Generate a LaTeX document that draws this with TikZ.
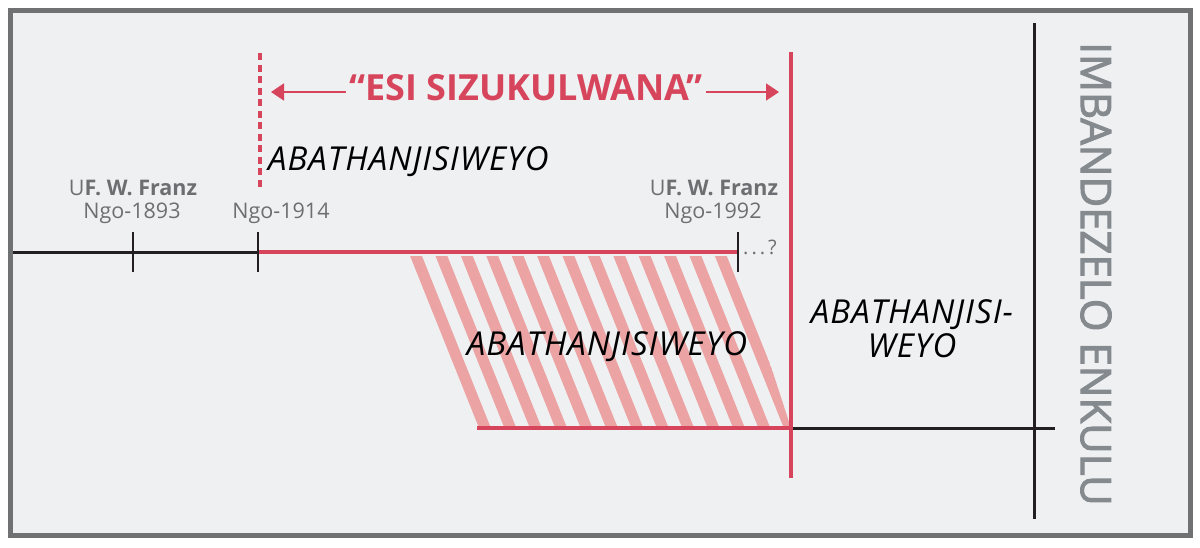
\documentclass[tikz,border=0pt]{standalone}
\usepackage{fontspec}
\setmainfont{Open Sans}
\newfontfamily\sidefont[FakeBold=2.5]{Open Sans}
\usetikzlibrary{arrows.meta,positioning}

\definecolor{framegray}{HTML}{707173}
\definecolor{bggray}{HTML}{EFF0F2}
\definecolor{tlred}{HTML}{D6455B}
\definecolor{hatchred}{HTML}{ECA3A3}
\definecolor{labelgray}{HTML}{6D6E71}
\definecolor{sidegray}{HTML}{858A8F}
\definecolor{inkblack}{HTML}{231F20}

\tikzset{
  tick/.style={line width=2.8pt,inkblack},
  blackline/.style={line width=3pt,inkblack},
  redline/.style={line width=4.8pt,tlred},
  yearlabel/.style={inner sep=0pt,anchor=base,labelgray,font=\fontsize{21.5}{24}\selectfont},
  bigitalic/.style={inner sep=0pt,font=\fontsize{33}{34}\selectfont\itshape\addfontfeature{LetterSpace=3}},
}

\begin{document}
\begin{tikzpicture}[x=1pt,y=-1pt]

			\useasboundingbox (0,0) rectangle (1200,547);
			\draw[line width=5pt,framegray,fill=bggray] (10.5,10.5) rectangle (1190,535.5);

			% hatched block
			\begin{scope}
				\clip (410,256) -- (735,256) -- (791,428) -- (479,428) -- cycle;
				\foreach \k in {0,...,15}
					\draw[hatchred,line width=11pt] (416+\k*25.4-10,231) -- (416+\k*25.4+79,453);
			\end{scope}

			% upper timeline
			\coordinate (start) at (13,252);
			\coordinate (t1893) at (133,252);
			\coordinate (t1914) at (258,252);
			\coordinate (t1992) at (738,252);
			\draw[blackline] (start) -- (t1914);
			\draw[redline] (t1914) -- (t1992);
			\foreach \t in {t1893,t1914,t1992}
				\draw[tick] ([yshift=-20pt]\t) -- ([yshift=20pt]\t);

			% lower timeline
			\coordinate (low) at (477,428);
			\coordinate (cross) at (791,428);
			\coordinate (lowend) at (1055,428);
			\draw[redline] (low) -- (cross);
			\draw[blackline] (cross) -- (lowend);

			% end line and right axis
			\coordinate (endtop) at (791,52);
			\coordinate (endbot) at (791,478);
			\draw[line width=4.4pt,tlred] (endtop) -- (endbot);
			\coordinate (axtop) at (1034,23);
			\coordinate (axbot) at (1034,519);
			\draw[blackline] (axtop) -- (axbot);

			% dashed start
			\coordinate (dashtop) at (260,53);
			\coordinate (dashbot) at (260,191);
			\draw[line width=4pt,tlred,dash pattern=on 7pt off 4.5pt] (dashtop) -- (dashbot);

			% generation title
			\node[inner sep=0pt,anchor=base,tlred,font=\fontsize{36}{40}\selectfont\bfseries] (gen) at (526,100) {“ESI SIZUKULWANA”};
			\coordinate (arrL) at (271,92);
			\coordinate (arrR) at (779,92);
			\draw[tlred,line width=1.8pt,-{Triangle[length=13pt,width=17pt]}] (gen.west |- arrL) ++(-3,0) -- (arrL);
			\draw[tlred,line width=1.8pt,-{Triangle[length=13pt,width=17pt]}] (gen.east |- arrR) ++(3,0) -- (arrR);

			% labels
			\node[bigitalic,anchor=base west] (anoint1) at (268,170) {ABATHANJISIWEYO};
			\node[bigitalic,anchor=base] (anoint2) at (607,355) {ABATHANJISIWEYO};
			\node[bigitalic,align=center] (anoint3) at (912,329) {ABATHANJISI-\\WEYO};

			\node[yearlabel] (franz1) at (133,195) {U\textbf{F. W. Franz}};
			\node[yearlabel] (y1893) at (132,218) {Ngo-1893};
			\node[yearlabel] (y1914) at (281,218) {Ngo-1914};
			\node[yearlabel] (franz2) at (714,195) {U\textbf{F. W. Franz}};
			\node[yearlabel] (y1992) at (713,218) {Ngo-1992};
			\node[inner sep=0pt,anchor=base west,labelgray,font=\fontsize{20}{22}\selectfont] (dots) at (743,254) {.\hspace{3pt}.\hspace{3pt}.\hspace{3pt}?};

			\node[inner sep=0pt,rotate=-90,sidegray,font=\sidefont\fontsize{42}{46}\selectfont] (tribu) at (1096,274) {IMBANDEZELO ENKULU};

		\end{tikzpicture}
\end{document}
